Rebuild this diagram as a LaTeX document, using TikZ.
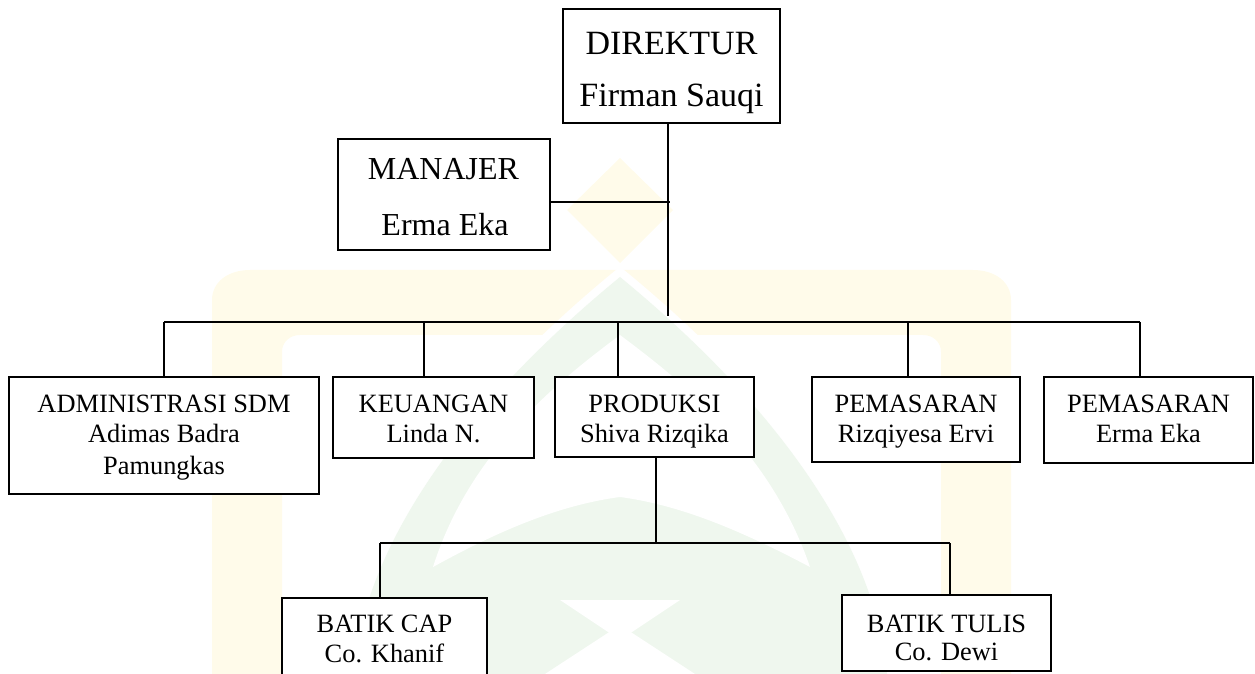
\documentclass[tikz,border=0pt]{standalone}
\usepackage{fontspec}
\setmainfont{Liberation Serif}
\definecolor{wmy}{RGB}{255,251,234}
\definecolor{wmg}{RGB}{239,247,238}
\begin{document}
\begin{tikzpicture}[x=0.5pt,y=-0.5pt,
  topbox/.style={draw=black, line width=0.65pt, fill=white, inner sep=0pt},
  lowbox/.style={draw=black, line width=1.3pt, fill=white, inner sep=0pt},
  dirtxt/.style={anchor=base, inner sep=0pt, font=\fontsize{17}{19}\selectfont},
  mantxt/.style={anchor=base, inner sep=0pt, font=\fontsize{16}{18}\selectfont},
  lowtxt/.style={anchor=base, inner sep=0pt, font=\fontsize{13.2}{15}\selectfont},
  conn/.style={draw=black, line width=0.6pt}]
\useasboundingbox (0,0) rectangle (1255,674);
\begin{scope}
\clip (0,0) rectangle (1255,674);
% faint watermark
\fill[wmy, even odd rule]
  (212,674) -- (212,300) .. controls (212,282) and (228,270) .. (250,270) -- (973,270)
  .. controls (995,270) and (1011,282) .. (1011,300) -- (1011,674) -- cycle
  (282,674) -- (282,352) .. controls (282,342) and (290,335) .. (300,335) -- (923,335)
  .. controls (933,335) and (941,342) .. (941,352) -- (941,674) -- cycle;
\fill[wmy] (567,210) -- (620,158) -- (673,210) -- (620,263) -- cycle;
\draw[white, line width=8pt] (353,674) .. controls (365,540) and (470,400) .. (620,277)
  .. controls (770,400) and (875,540) .. (887,674);
\fill[wmg] (353,674) .. controls (365,540) and (470,400) .. (620,277)
  .. controls (770,400) and (875,540) .. (887,674) -- cycle;
\fill[white] (433,567) .. controls (470,450) and (560,380) .. (620,335)
  .. controls (680,380) and (770,450) .. (810,567)
  .. controls (740,530) and (680,505) .. (620,497)
  .. controls (560,505) and (500,530) .. (433,567) -- cycle;
\fill[white] (545,674) -- (620,625) -- (695,674) -- cycle;
\fill[white] (560,600) -- (620,640) -- (680,600) -- cycle;

% boxes
\node[topbox, minimum width=108.5pt, minimum height=57pt] (dir) at (671.5,66) {};
\node[topbox, minimum width=106pt, minimum height=55.5pt] (man) at (444,194.5) {};
\node[lowbox, minimum width=155pt, minimum height=58.5pt] (adm) at (164,435.5) {};
\node[lowbox, minimum width=100.5pt, minimum height=40.5pt] (keu) at (433.5,417.5) {};
\node[lowbox, minimum width=99.5pt, minimum height=40pt] (pro) at (654.5,417) {};
\node[lowbox, minimum width=104pt, minimum height=42.5pt] (pem1) at (916,419.5) {};
\node[lowbox, minimum width=104.5pt, minimum height=43pt] (pem2) at (1148.5,420) {};
\node[lowbox, minimum width=102.5pt, minimum height=51pt] (cap) at (384.5,649) {};
\node[lowbox, minimum width=104.5pt, minimum height=38pt] (tul) at (946.5,633) {};

% texts
\node[dirtxt] (dirA) at (671.5,55) {DIREKTUR};
\node[dirtxt] (dirB) at (671.5,107) {Firman Sauqi};
\node[mantxt] (manA) at (443.5,180) {MANAJER};
\node[mantxt] (manB) at (445,235) {Erma Eka};
\node[lowtxt] (admA) at (164,412) {ADMINISTRASI SDM};
\node[lowtxt] (admB) at (164,443) {Adimas Badra};
\node[lowtxt] (admC) at (164,474) {Pamungkas};
\node[lowtxt] (keuA) at (433.5,412) {KEUANGAN};
\node[lowtxt] (keuB) at (433.5,443) {Linda N.};
\node[lowtxt] (proA) at (654.5,412) {PRODUKSI};
\node[lowtxt] (proB) at (654.5,443) {Shiva Rizqika};
\node[lowtxt] (pem1A) at (916,412) {PEMASARAN};
\node[lowtxt] (pem1B) at (916,443) {Rizqiyesa Ervi};
\node[lowtxt] (pem2A) at (1148.5,412) {PEMASARAN};
\node[lowtxt] (pem2B) at (1148.5,443) {Erma Eka};
\node[lowtxt] (capA) at (384.5,632) {BATIK CAP};
\node[lowtxt] (capB) at (384.5,662) {Co. Khanif};
\node[lowtxt] (tulA) at (946.5,632) {BATIK TULIS};
\node[lowtxt] (tulB) at (946.5,660) {Co. Dewi};

% connector points
\coordinate (t1) at (668,316);
\coordinate (m1) at (670,202);
\coordinate (bl) at (164,322);
\coordinate (br) at (1140,322);
\coordinate (bk) at (424,322);
\coordinate (bp) at (618,322);
\coordinate (bm) at (908,322);
\coordinate (p1) at (656,543);
\coordinate (c1) at (380,543);
\coordinate (c2) at (950,543);

% connectors
\draw[conn] (dir.south -| t1) -- (t1);
\draw[conn] (man.east |- m1) -- (m1);
\draw[conn] (bl) -- (br);
\draw[conn] (bl) -- (bl |- adm.north);
\draw[conn] (bk) -- (bk |- keu.north);
\draw[conn] (bp) -- (bp |- pro.north);
\draw[conn] (bm) -- (bm |- pem1.north);
\draw[conn] (br) -- (br |- pem2.north);
\draw[conn] (p1 |- pro.south) -- (p1);
\draw[conn] (c1) -- (c2);
\draw[conn] (c1) -- (c1 |- cap.north);
\draw[conn] (c2) -- (c2 |- tul.north);
\end{scope}
\end{tikzpicture}
\end{document}
